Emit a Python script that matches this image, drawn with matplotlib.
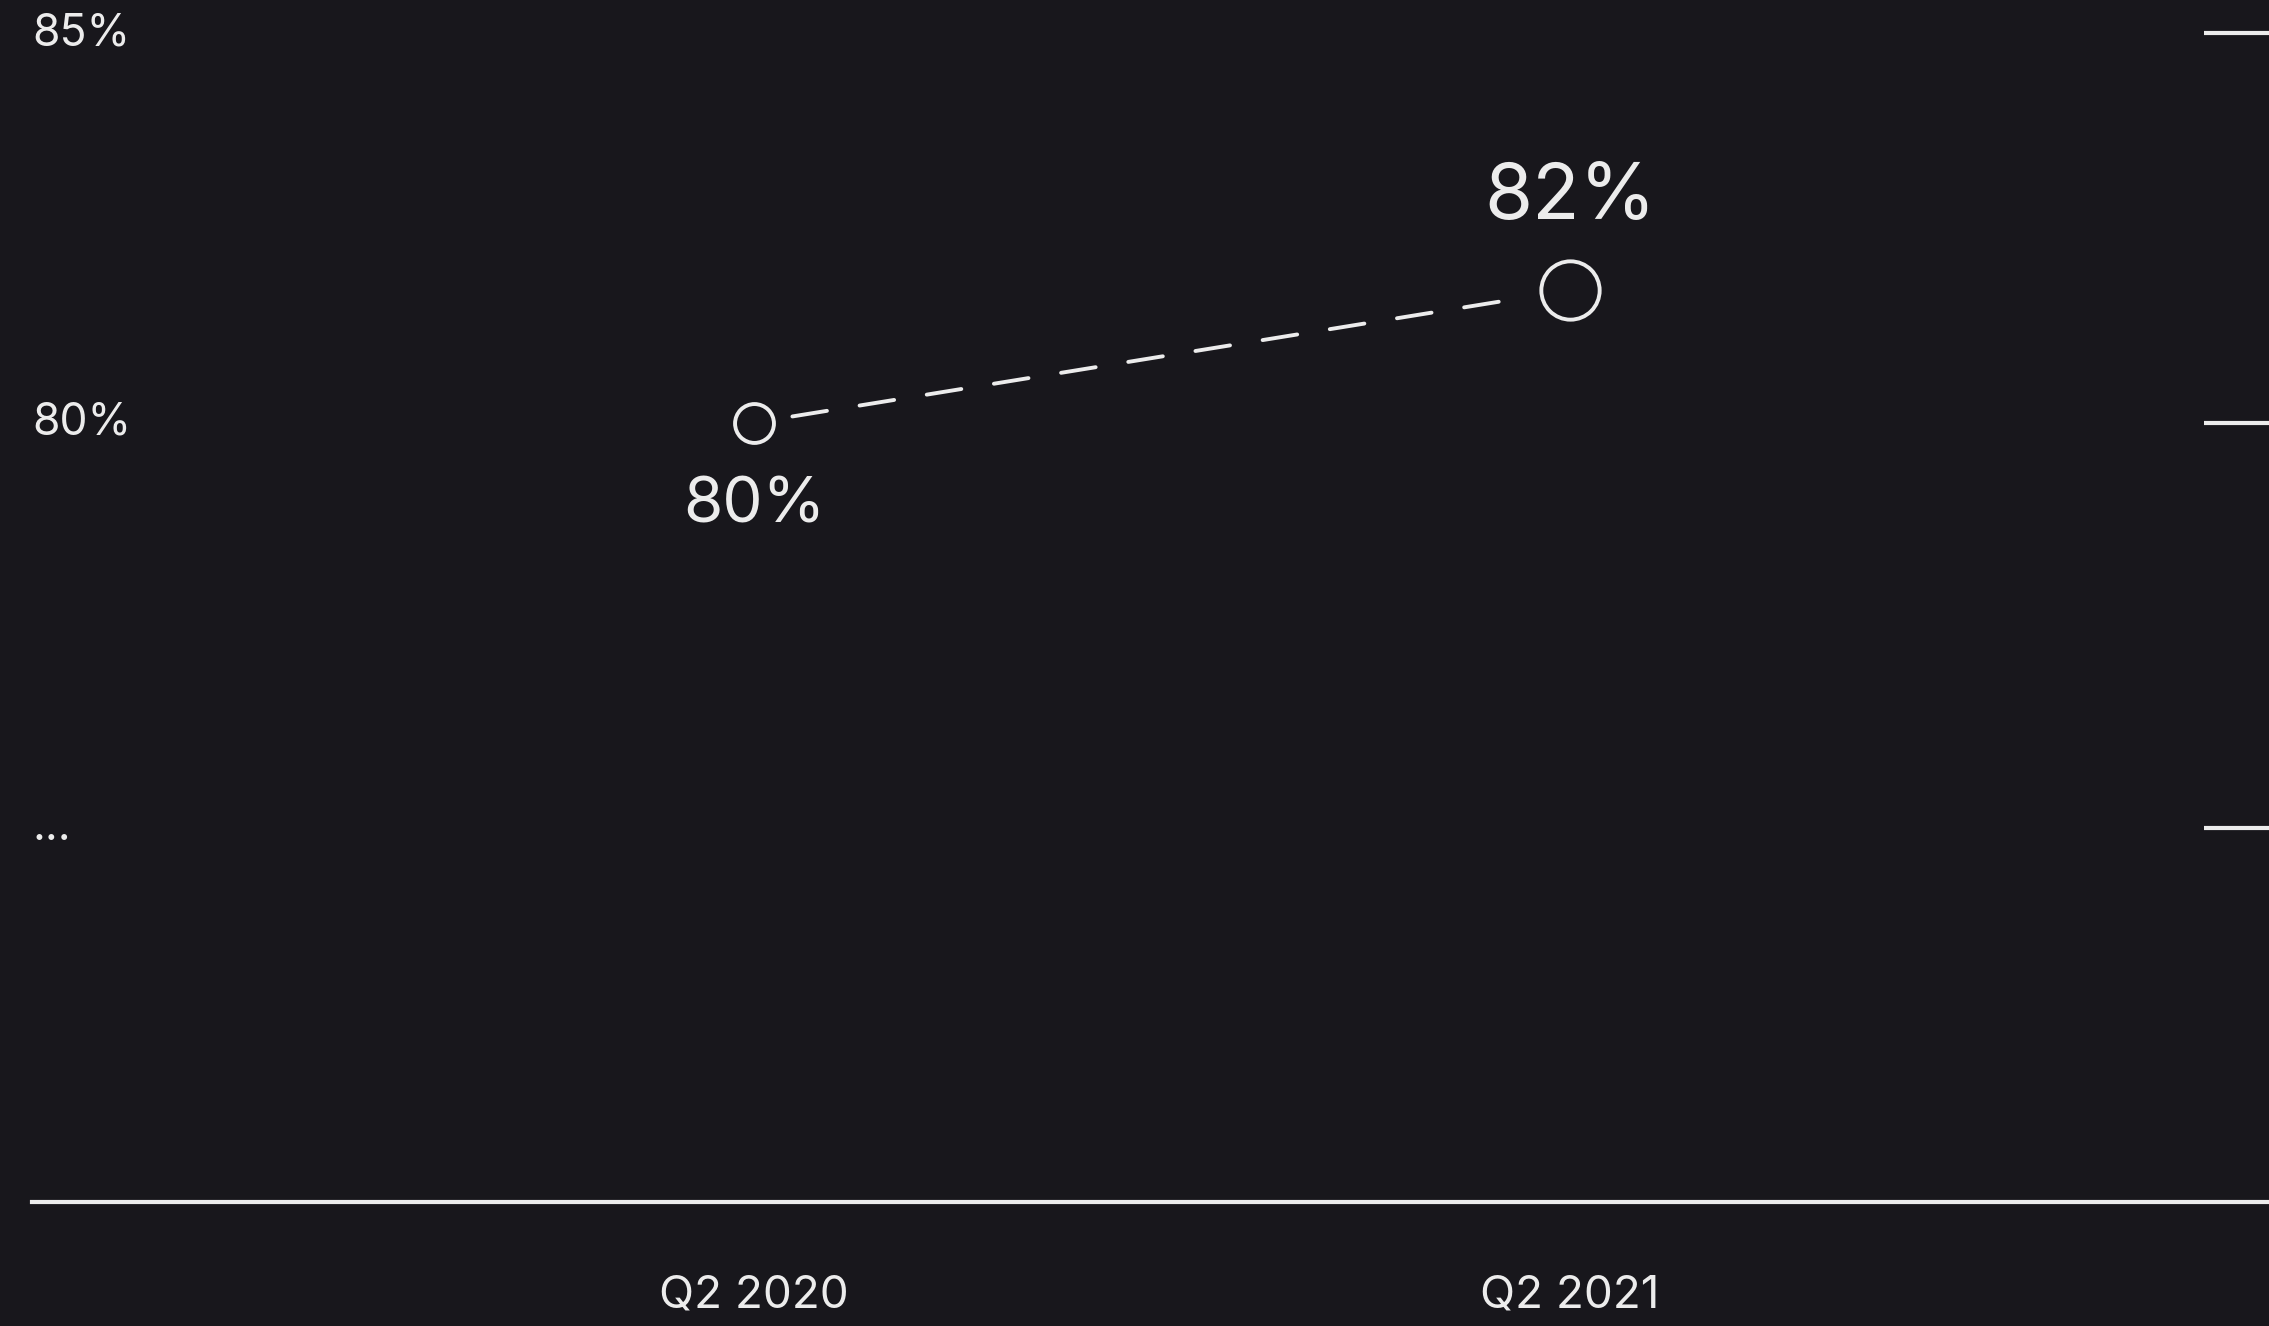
import matplotlib.pyplot as plt

# data
quarters = ["Q2 2020", "Q2 2021"]
values = [80.0, 81.7]
value_labels = ["80%", "82%"]
marker_sizes = [28, 42]
label_offsets = [-83, 92]   # px below / above the point
label_sizes = [46, 56]

y_ticks = [74.8, 80, 85]
y_tick_labels = ["...", "80%", "85%"]

bg = "#18171c"
fg = "#ececec"

plt.rcParams['font.family'] = ['Inter', 'DejaVu Sans']

fig = plt.figure(figsize=(22.69, 13.26), dpi=100, facecolor=bg)
ax = fig.add_axes([32 / 2269, 0.0935, 1 - 32 / 2269, 0.8816], facecolor=bg)

x = list(range(len(quarters)))
ax.set_xlim(-0.885, 1.857)
ax.set_ylim(70, 85)

# dashed connector, kept clear of the markers
ax.annotate("", xy=(x[1], values[1]), xytext=(x[0], values[0]),
            arrowprops=dict(arrowstyle='-', color=fg, lw=2.8,
                            linestyle=(0, (9, 8.5)),
                            shrinkA=28, shrinkB=35))

for xi, v, ms, lab, off, fs in zip(x, values, marker_sizes, value_labels,
                                   label_offsets, label_sizes):
    ax.plot(xi, v, 'o', ms=ms, mfc=bg, mec=fg, mew=2.8, zorder=5)
    ax.annotate(lab, (xi, v), xytext=(0, off * 0.72), textcoords='offset points',
                ha='center', va='center', fontsize=fs, color=fg)

# y labels drawn at the left edge, tick marks on the right
for t, lab in zip(y_ticks, y_tick_labels):
    ax.text(0, t, lab, transform=ax.get_yaxis_transform(), ha='left',
            va='center', fontsize=32, color=fg, clip_on=False)
ax.set_yticks(y_ticks)
ax.tick_params(axis='y', left=False, right=True, labelleft=False,
               direction='in', length=47, width=3, color=fg)

ax.set_xticks(x, quarters)
ax.tick_params(axis='x', length=0, pad=52, labelsize=33, labelcolor=fg)

for s in ['top', 'left', 'right']:
    ax.spines[s].set_visible(False)
ax.spines['bottom'].set_color(fg)
ax.spines['bottom'].set_linewidth(3)

fig.savefig("out.png", dpi=100, facecolor=bg)
